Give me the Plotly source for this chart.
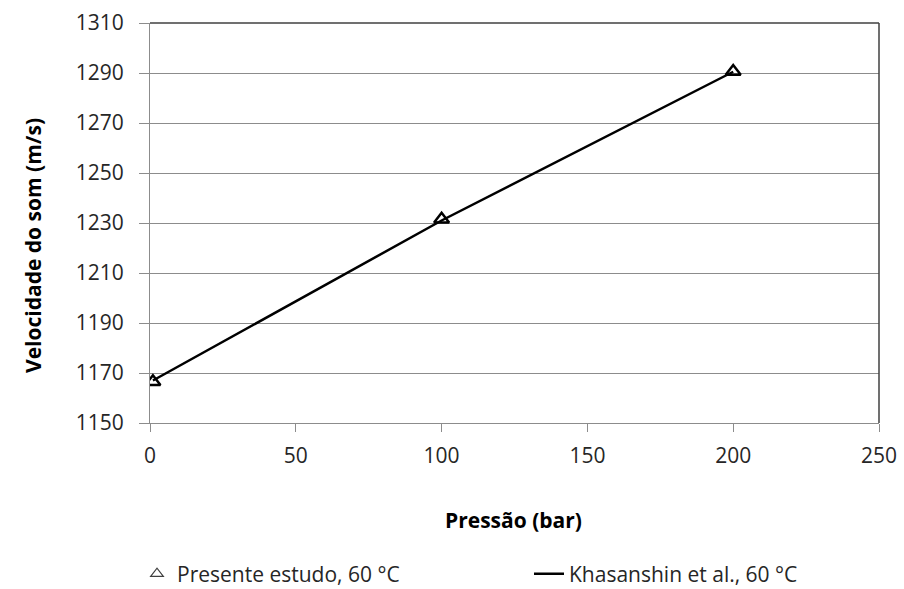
import plotly.graph_objects as go

# Data
pressao_presente = [1, 100, 200]
velocidade_presente = [1166.5, 1231.5, 1290.6]
pressao_khas = [1, 100, 200]
velocidade_khas = [1167, 1231, 1290.5]

x_ticks = [0, 50, 100, 150, 200, 250]
y_ticks = [1150, 1170, 1190, 1210, 1230, 1250, 1270, 1290, 1310]

FONT = "Open Sans"
TXT = "#262626"
GRID = "#8c8c8c"
FS = 21

fig = go.Figure()
fig.add_trace(go.Scatter(
    x=pressao_khas, y=velocidade_khas, mode="lines",
    line=dict(color="black", width=2.5),
    name="Khasanshin et al., 60 °C", legend="legend2", showlegend=True))
fig.add_trace(go.Scatter(
    x=pressao_presente, y=velocidade_presente, mode="markers",
    marker=dict(symbol="triangle-up-open", size=13, color="black",
                line=dict(width=2.5, color="black")),
    name="Presente estudo, 60 °C", legend="legend", showlegend=False))
# legend-only entry with the small legend glyph
fig.add_trace(go.Scatter(
    x=[None], y=[None], mode="markers",
    marker=dict(symbol="triangle-up-open", size=11, color="#404040",
                line=dict(width=1.2, color="#404040")),
    name="Presente estudo, 60 °C", legend="legend", showlegend=True))

fig.update_layout(
    width=904, height=589,
    margin=dict(l=150, r=25, t=23, b=166, autoexpand=False),
    paper_bgcolor="white", plot_bgcolor="white",
    showlegend=True,
    font=dict(family=FONT, size=FS, color=TXT),
    xaxis=dict(range=[0, 250], tickvals=x_ticks, ticks="outside", ticklen=8,
               tickcolor=GRID, showline=True, linecolor=GRID, linewidth=1,
               showgrid=False, zeroline=False, ticklabelstandoff=6),
    yaxis=dict(range=[1150, 1310], tickvals=y_ticks, ticks="outside", ticklen=10,
               tickcolor=GRID, showline=True, linecolor=GRID, linewidth=1,
               showgrid=True, gridcolor=GRID, gridwidth=1, zeroline=False,
               ticklabelstandoff=11),
    legend=dict(x=137 / 904, y=1 - 574 / 589, xref="container", yref="container",
                xanchor="left", yanchor="middle",
                orientation="h", font=dict(size=FS, color=TXT),
                bgcolor="rgba(0,0,0,0)"),
    legend2=dict(x=529 / 904, y=1 - 574 / 589, xref="container", yref="container",
                 xanchor="left", yanchor="middle",
                 orientation="h", font=dict(size=FS, color=TXT),
                 bgcolor="rgba(0,0,0,0)"),
    annotations=[
        dict(text="<b>Pressão (bar)</b>", xref="paper", yref="paper",
             x=(513 - 150) / 729, y=(423 - 520) / 400, xanchor="center", yanchor="middle",
             showarrow=False, font=dict(size=FS, color="black", family=FONT)),
        dict(text="<b>Velocidade do som (m/s)</b>", xref="paper", yref="paper",
             x=(33 - 150) / 729, y=(423 - 246) / 400, xanchor="center", yanchor="middle",
             textangle=-90, showarrow=False, font=dict(size=FS, color="black", family=FONT)),
    ],
    shapes=[
        dict(type="line", xref="paper", yref="paper", x0=0, x1=1, y0=1, y1=1,
             line=dict(color="#404040", width=1.5)),
        dict(type="line", xref="paper", yref="paper", x0=1, x1=1, y0=0, y1=1,
             line=dict(color="#404040", width=1.5)),
    ],
)

fig.write_html("out.html")
